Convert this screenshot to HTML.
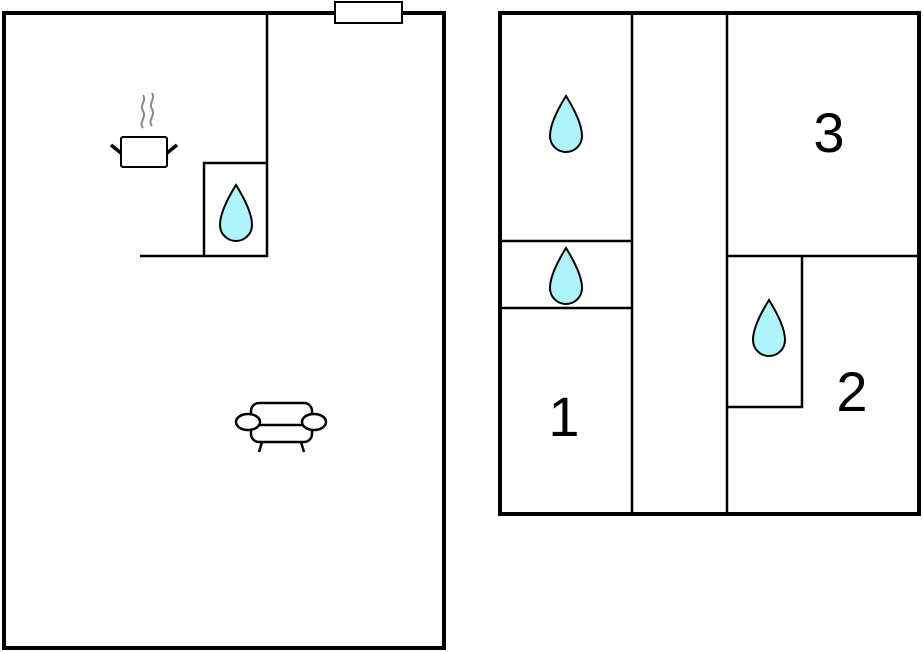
<!DOCTYPE html>
<html><head><style>body{margin:0;background:#fff}svg{display:block}</style></head><body>
<svg width="923" height="652" viewBox="0 0 923 652" xmlns="http://www.w3.org/2000/svg">
<defs><path id="d" d="M0,0 C-5,8 -16,26 -16,40 A16,16 0 0 0 16,40 C16,26 5,8 0,0 Z" fill="#aef4fa" stroke="#000" stroke-width="2"/></defs>
<g fill="none" stroke="#000">
<rect x="4" y="13" width="440" height="635" stroke-width="4"/>
<path d="M267,13 V256 H140 M204,256 V163 H267" stroke-width="2.5"/>
<rect x="335" y="2" width="67" height="21" fill="#fff" stroke-width="2"/>
<rect x="500" y="13" width="419" height="501" stroke-width="4"/>
<path d="M632,13 V514 M727,13 V514 M500,241 H632 M500,308 H632 M727,256 H919 M727,407 H802 V256" stroke-width="2.5"/>
<!-- pot -->
<rect x="121" y="137" width="46" height="30" rx="2" stroke-width="2"/>
<path d="M111,145 L121,153 M177,145 L167,153" stroke-width="3.5"/>
<path d="M143,128 c-5,-6 4,-10 0,-17 c-4,-6 4,-10 0,-16 M152,126 c-5,-6 4,-10 0,-17 c-4,-6 4,-10 0,-16" stroke="#888" stroke-width="2"/>
<!-- sofa -->
<g stroke-width="2.5">
<path d="M251,416 v-5 a8,8 0 0 1 8,-8 h45 a8,8 0 0 1 8,8 v5"/>
<path d="M251,428 v6 a8,8 0 0 0 8,8 h45 a8,8 0 0 0 8,-8 v-6"/>
<line x1="258" y1="425" x2="304" y2="425"/>
<ellipse cx="248" cy="422" rx="12" ry="8" fill="#fff"/>
<ellipse cx="314" cy="422" rx="12" ry="8" fill="#fff"/>
<path d="M262,442 l-3,10 M301,442 l3,10"/>
</g>
</g>
<use href="#d" x="236" y="185"/>
<use href="#d" x="566" y="96"/>
<use href="#d" x="566" y="248"/>
<use href="#d" x="769" y="300"/>
<g font-family="Liberation Sans, sans-serif" font-size="56" text-anchor="middle" fill="#000">
<text x="829" y="152">3</text>
<text x="564" y="436">1</text>
<text x="852" y="411">2</text>
</g>
</svg>
</body></html>
